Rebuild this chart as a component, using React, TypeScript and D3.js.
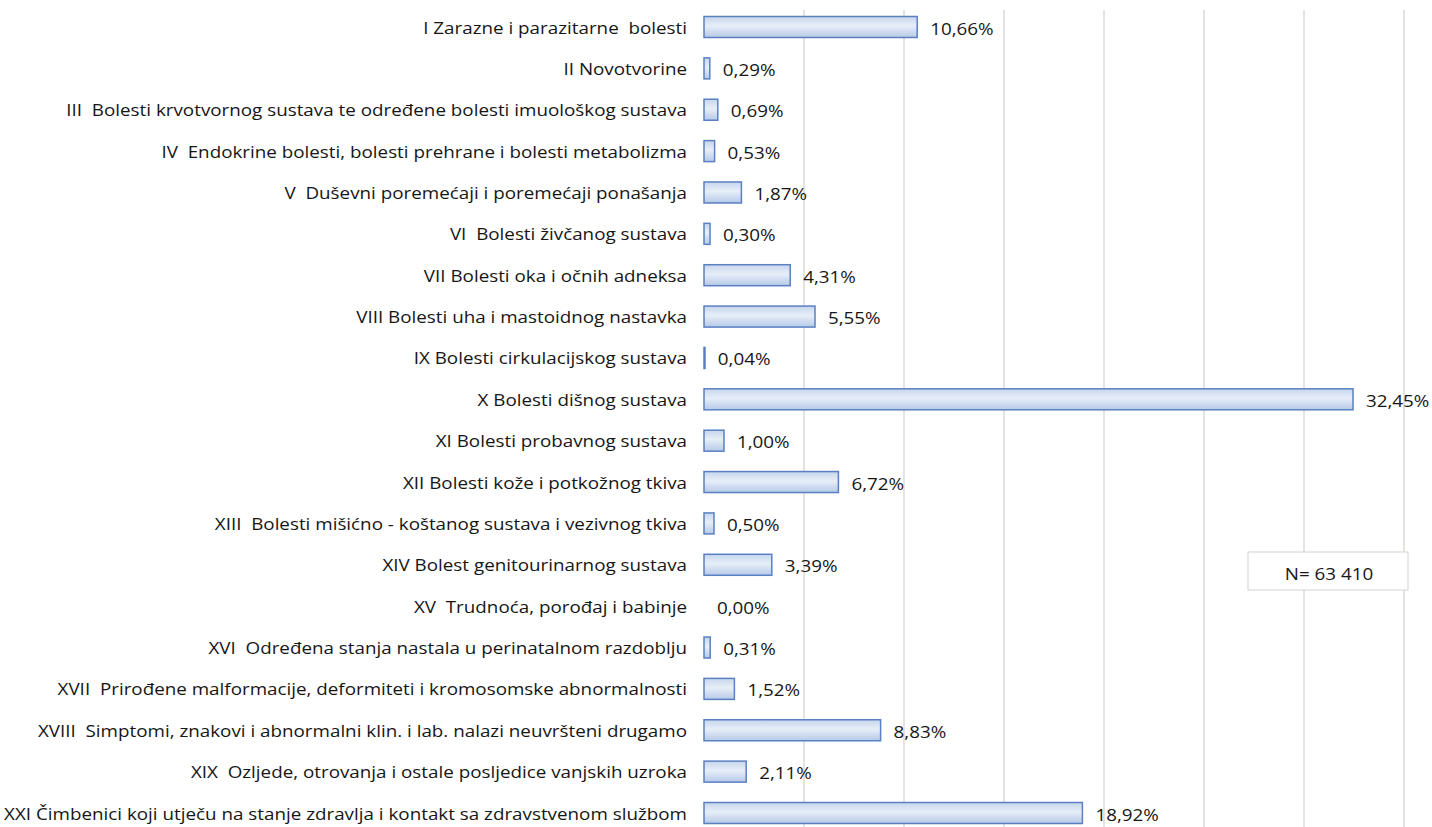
import React from "react";
import * as d3 from "d3";

const categories: string[] = [
  "I Zarazne i parazitarne  bolesti",
  "II Novotvorine",
  "III  Bolesti krvotvornog sustava te određene bolesti imuološkog sustava",
  "IV  Endokrine bolesti, bolesti prehrane i bolesti metabolizma",
  "V  Duševni poremećaji i poremećaji ponašanja",
  "VI  Bolesti živčanog sustava",
  "VII Bolesti oka i očnih adneksa",
  "VIII Bolesti uha i mastoidnog nastavka",
  "IX Bolesti cirkulacijskog sustava",
  "X Bolesti dišnog sustava",
  "XI Bolesti probavnog sustava",
  "XII Bolesti kože i potkožnog tkiva",
  "XIII  Bolesti mišićno - koštanog sustava i vezivnog tkiva",
  "XIV Bolest genitourinarnog sustava",
  "XV  Trudnoća, porođaj i babinje",
  "XVI  Određena stanja nastala u perinatalnom razdoblju",
  "XVII  Prirođene malformacije, deformiteti i kromosomske abnormalnosti",
  "XVIII  Simptomi, znakovi i abnormalni klin. i lab. nalazi neuvršteni drugamo",
  "XIX  Ozljede, otrovanja i ostale posljedice vanjskih uzroka",
  "XXI Čimbenici koji utječu na stanje zdravlja i kontakt sa zdravstvenom službom",
];

const values: number[] = [
  10.66, 0.29, 0.69, 0.53, 1.87, 0.3, 4.31, 5.55, 0.04, 32.45, 1.0, 6.72, 0.5,
  3.39, 0.0, 0.31, 1.52, 8.83, 2.11, 18.92,
];

const gridTicks: number[] = [5, 10, 15, 20, 25, 30, 35];
const noteText = "N= 63 410";

const W = 1432;
const H = 827;
const FONT = "'Open Sans', Lato, sans-serif";
const SX = 1.14;

export default function App() {
  const x = d3.scaleLinear().domain([0, 35]).range([704, 1404]);
  const y = d3.scalePoint<string>().domain(categories).range([27, 813]);
  const barH = 21;
  const fmt = (v: number) => v.toFixed(2).replace(".", ",") + "%";

  return (
    <svg
      width={W}
      height={H}
      style={{ position: "absolute", left: 0, top: 0, background: "#fff" }}
    >
      <defs>
        <linearGradient id="barGrad" x1="0" y1="0" x2="0" y2="1">
          <stop offset="0%" stopColor="#c6d6ed" />
          <stop offset="45%" stopColor="#e7eef8" />
          <stop offset="100%" stopColor="#b5c9e7" />
        </linearGradient>
      </defs>
      <rect x={0} y={0} width={W} height={H} fill="#fff" />
      {gridTicks.map((t) => (
        <line
          key={t}
          x1={x(t)}
          x2={x(t)}
          y1={10}
          y2={H}
          stroke="#e6e2df"
          strokeWidth={2}
        />
      ))}
      {categories.map((c, i) => {
        const cy = y(c) as number;
        const v = values[i];
        const x0 = x(0);
        const x1 = x(v);
        return (
          <g key={c}>
            <text
              transform={`translate(687,${cy}) scale(${SX},1)`}
              textAnchor="end"
              dominantBaseline="central"
              fontFamily={FONT}
              fontSize={16.5}
              fill="#161616"
              style={{ whiteSpace: "pre" }}
            >
              {c}
            </text>
            {v > 0 && (
              <rect
                x={x0}
                y={cy - barH / 2}
                width={Math.max(x1 - x0, 1)}
                height={barH}
                fill="url(#barGrad)"
                stroke="#5a80c2"
                strokeWidth={1.5}
              />
            )}
            <text
              transform={`translate(${x1 + 13},${cy + 1}) scale(${SX},1)`}
              dominantBaseline="central"
              fontFamily={FONT}
              fontSize={16.5}
              fill="#161616"
            >
              {fmt(v)}
            </text>
          </g>
        );
      })}
      <rect
        x={1248}
        y={552}
        width={160}
        height={38}
        fill="#fff"
        stroke="#d6d2cf"
        strokeWidth={1}
      />
      <text
        transform={`translate(1329,573) scale(${SX},1)`}
        textAnchor="middle"
        dominantBaseline="central"
        fontFamily={FONT}
        fontSize={16.5}
        fill="#161616"
      >
        {noteText}
      </text>
    </svg>
  );
}
